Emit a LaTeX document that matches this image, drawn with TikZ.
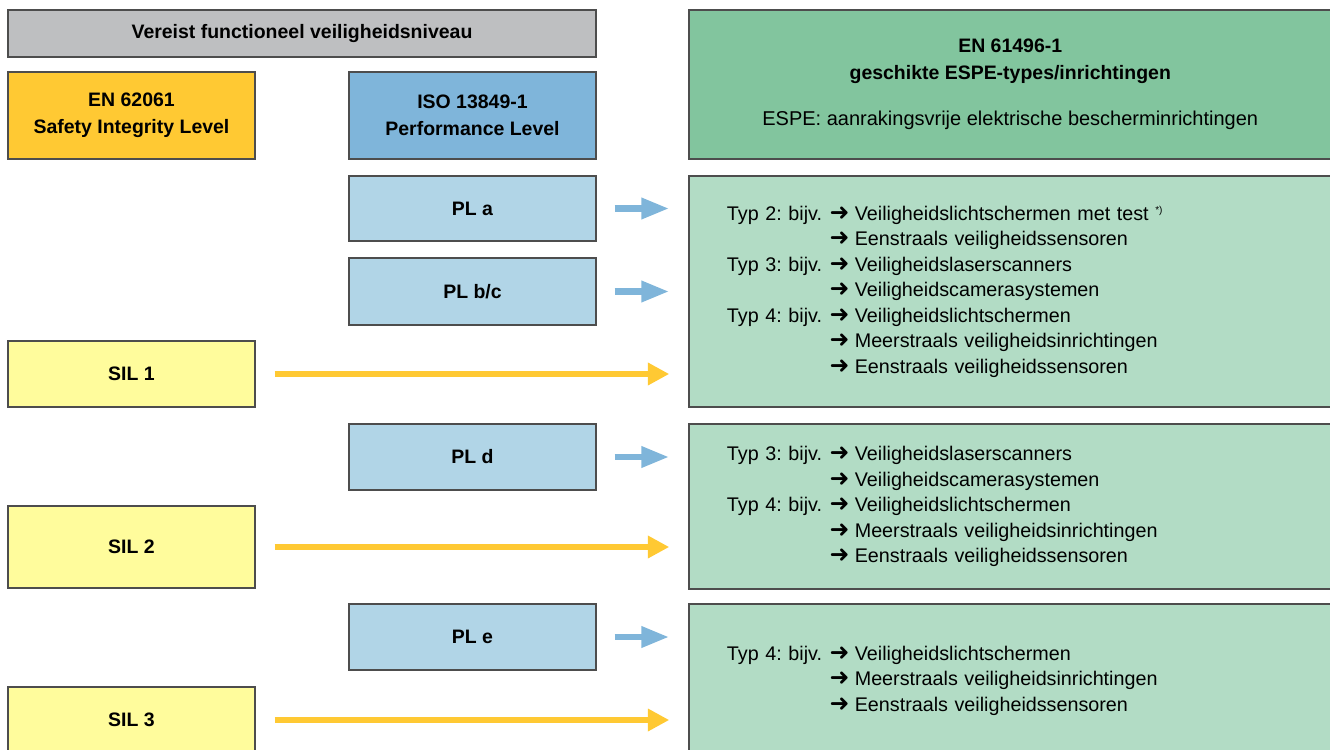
\documentclass[tikz,border=0pt]{standalone}
\usepackage{fontspec}
\setmainfont{Liberation Sans}
\newfontfamily\pijlfont{DejaVu Sans}[Scale=1.2]
\usetikzlibrary{arrows.meta}
\frenchspacing

\definecolor{rand}{HTML}{4D4D4D}
\definecolor{kopgrijs}{HTML}{BEBFC1}
\definecolor{silkop}{HTML}{FFC933}
\definecolor{plkop}{HTML}{7FB5DA}
\definecolor{plvak}{HTML}{B1D5E7}
\definecolor{silvak}{HTML}{FFFC9C}
\definecolor{espekop}{HTML}{82C59E}
\definecolor{espevak}{HTML}{B2DCC5}

\newcommand{\pijl}{{\pijlfont\symbol{"279C}}\hspace{4pt}}
\newcommand{\typ}[1]{\makebox[77pt][l]{#1}}

\begin{document}
\begin{tikzpicture}[x=0.75pt, y=-0.75pt,
    vak/.style={draw=rand, line width=1.1pt, inner sep=0pt, align=center,
        font=\bfseries\fontsize{14.6}{20.25}\selectfont},
    links/.style={vak, minimum width=185.25pt},
    midden/.style={vak, minimum width=185.25pt, fill=plvak},
    sil/.style={links, fill=silvak},
    espe/.style={draw=rand, line width=1.1pt, fill=espevak, align=left,
        text width=424.9pt, inner xsep=28.5pt, inner ysep=0pt,
        font=\fontsize{14.8}{19.1}\selectfont},
    plpijl/.style={plkop, line width=5pt, -{Triangle[length=21pt, width=15pt]},
        shorten <=13.5pt, shorten >=14.25pt},
    silpijl/.style={silkop, line width=4.5pt, -{Triangle[length=16pt, width=16pt]},
        shorten <=14.25pt, shorten >=14.25pt}]

    \useasboundingbox (0,0) rectangle (1330,749);
    \clip (0,0) rectangle (1330,749);

    % Kopregel
    \node[vak, fill=kopgrijs, minimum width=441pt, minimum height=35.25pt]
        (kop) at (302,33.5) {Vereist functioneel veiligheidsniveau};
    \node[links, fill=silkop, minimum height=65.25pt]
        (en62061) at (131.5,115.5) {EN 62061\\Safety Integrity Level};
    \node[midden, fill=plkop, minimum height=65.25pt]
        (iso) at (472.5,115.5) {ISO 13849-1\\Performance Level};
    \node[vak, fill=espekop, minimum width=481.9pt, minimum height=111.75pt]
        (en61496) at (1010.25,84.5) {EN 61496-1\\geschikte ESPE-types/inrichtingen\\[14.25pt]
        \normalfont\fontsize{15}{19}\selectfont ESPE: aanrakingsvrije elektrische bescherminrichtingen};

    % Performance Levels
    \node[midden, minimum height=48.75pt] (pla) at (472.5,208.5) {PL a};
    \node[midden, minimum height=50.25pt] (plbc) at (472.5,291.5) {PL b/c};
    \node[midden, minimum height=49.5pt] (pld) at (472.5,457) {PL d};
    \node[midden, minimum height=49.5pt] (ple) at (472.5,637) {PL e};

    % Safety Integrity Levels
    \node[sil, minimum height=49.5pt] (sil1) at (131.5,374) {SIL 1};
    \node[sil, minimum height=61.5pt] (sil2) at (131.5,547) {SIL 2};
    \node[sil, minimum height=49.5pt] (sil3) at (131.5,720) {SIL 3};

    % ESPE-types
    \node[espe, minimum height=173.25pt] (espe1) at (1010.25,291.5) {%
        \typ{Typ 2: bijv.}\pijl Veiligheidslichtschermen met test \textsuperscript{\fontsize{7.5}{7.5}\selectfont *)}\\
        \typ{}\pijl Eenstraals veiligheidssensoren\\
        \typ{Typ 3: bijv.}\pijl Veiligheidslaserscanners\\
        \typ{}\pijl Veiligheidscamerasystemen\\
        \typ{Typ 4: bijv.}\pijl Veiligheidslichtschermen\\
        \typ{}\pijl Meerstraals veiligheidsinrichtingen\\
        \typ{}\pijl Eenstraals veiligheidssensoren};
    \node[espe, minimum height=123.75pt] (espe2) at (1010.25,506.5) {%
        \typ{Typ 3: bijv.}\pijl Veiligheidslaserscanners\\
        \typ{}\pijl Veiligheidscamerasystemen\\
        \typ{Typ 4: bijv.}\pijl Veiligheidslichtschermen\\
        \typ{}\pijl Meerstraals veiligheidsinrichtingen\\
        \typ{}\pijl Eenstraals veiligheidssensoren};
    \node[espe, minimum height=114.75pt] (espe3) at (1010.25,680.5) {%
        \typ{Typ 4: bijv.}\pijl Veiligheidslichtschermen\\
        \typ{}\pijl Meerstraals veiligheidsinrichtingen\\
        \typ{}\pijl Eenstraals veiligheidssensoren};

    % Pijlen
    \draw[plpijl] (pla.east) -- (pla.east -| espe1.west);
    \draw[plpijl] (plbc.east) -- (plbc.east -| espe1.west);
    \draw[plpijl] (pld.east) -- (pld.east -| espe2.west);
    \draw[plpijl] (ple.east) -- (ple.east -| espe3.west);
    \draw[silpijl] (sil1.east) -- (sil1.east -| espe1.west);
    \draw[silpijl] (sil2.east) -- (sil2.east -| espe2.west);
    \draw[silpijl] (sil3.east) -- (sil3.east -| espe3.west);

\end{tikzpicture}
\end{document}
